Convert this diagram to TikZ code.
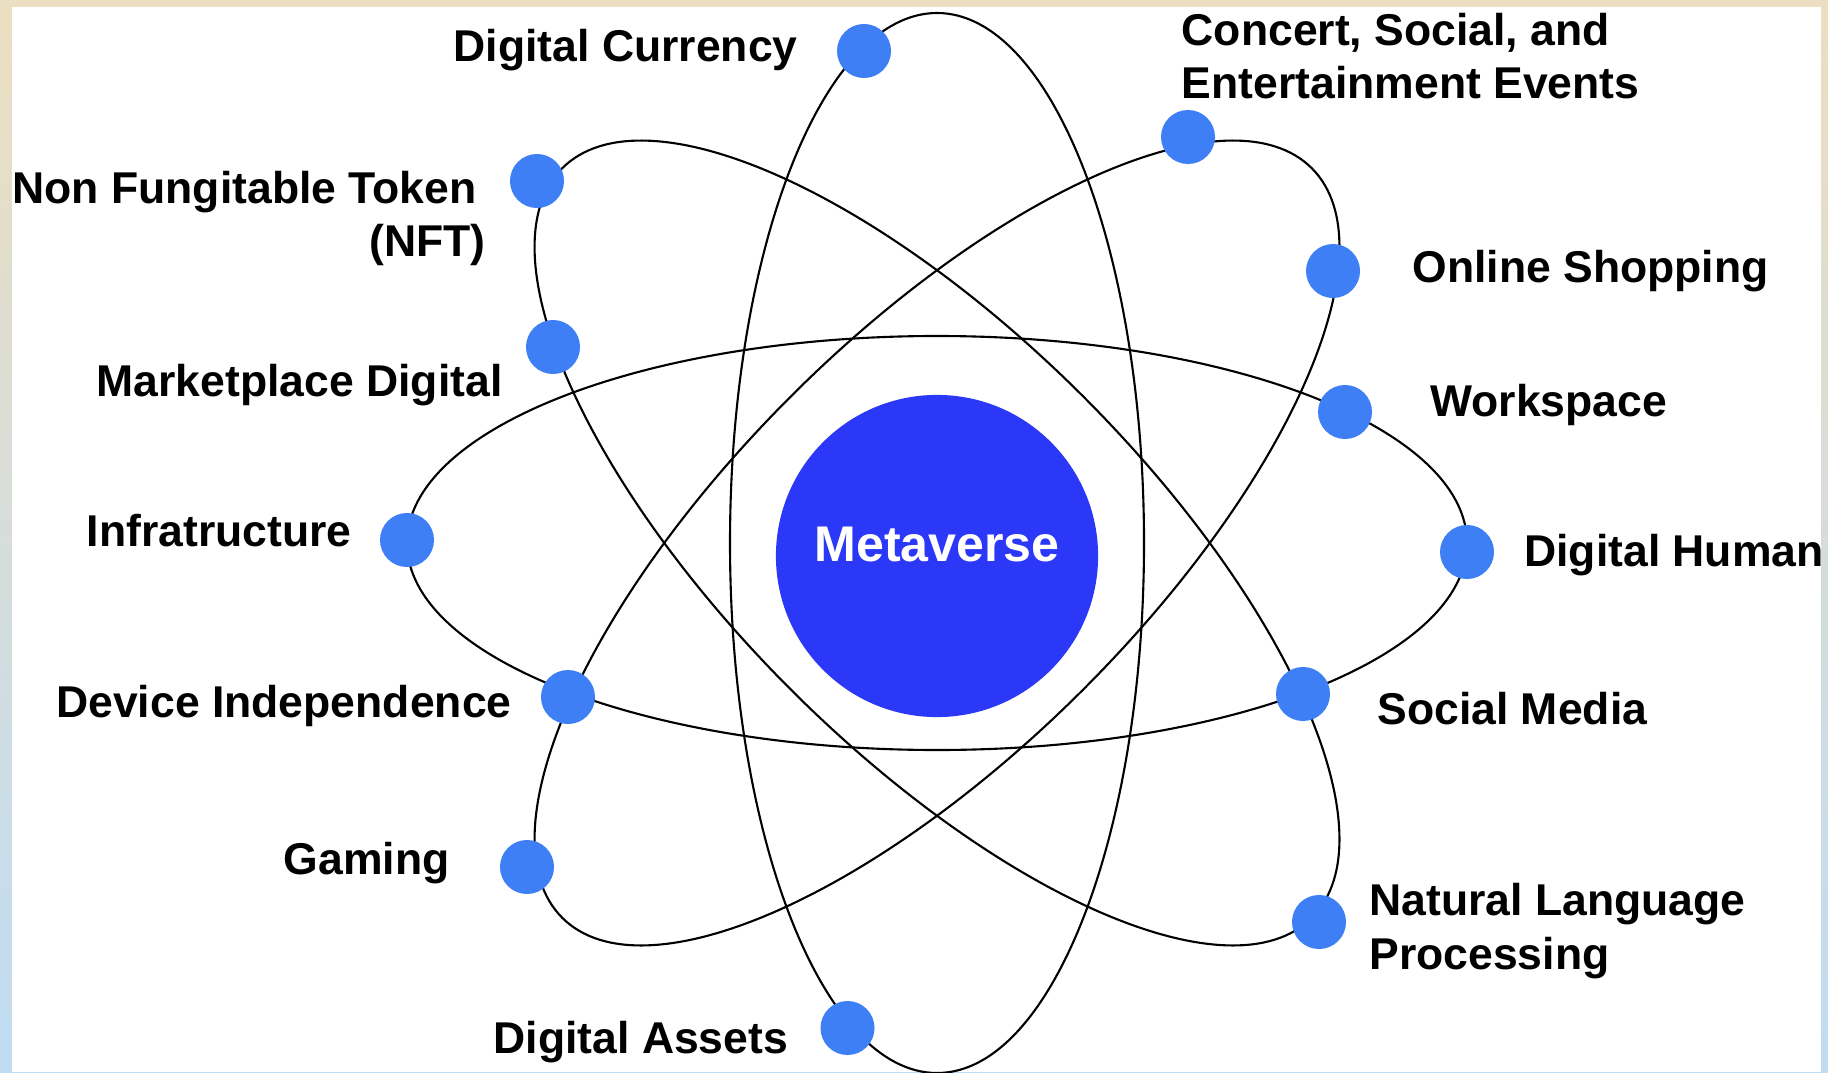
\documentclass[tikz,border=0pt]{standalone}
\usepackage{fontspec}
\setmainfont{Liberation Sans}
\usetikzlibrary{positioning}
\definecolor{dotblue}{RGB}{62,127,246}
\definecolor{hubblue}{RGB}{44,56,248}
\definecolor{bgtop}{RGB}{236,222,192}
\definecolor{bgbot}{RGB}{192,220,243}
\tikzstyle{dot}=[circle, fill=dotblue, minimum size=0.54cm, inner sep=0pt]
\tikzstyle{hub}=[circle, fill=hubblue, minimum size=3.22cm, inner sep=0pt]
\tikzstyle{lbl}=[inner sep=0pt, font=\fontsize{12.66}{15.2}\selectfont\bfseries]
\tikzstyle{hubtxt}=[inner sep=0pt, text=white, font=\fontsize{14.25}{17}\selectfont\bfseries]
\tikzstyle{orbit}=[line width=0.6pt, black]

\begin{document}
\begin{tikzpicture}[x=0.01cm, y=0.01cm]
	\useasboundingbox (0,0) rectangle (1828,1072);
	\shade[top color=bgtop, bottom color=bgbot] (0,0) rectangle (1828,1072);
	\fill[white] (12,0) rectangle (1821,1064.5);

	% four orbits round the hub
	\begin{scope}[shift={(937,529)}]
		\foreach \a in {0,45,90,135}
			\draw[orbit, rotate=\a] (0,0) ellipse [x radius=530, y radius=207];
	\end{scope}

	\node		[hub, label={[hubtxt, yshift=0.115cm]center:Metaverse}]		(mv) at (937,516) {};

	\node		[dot]		(dc) at (864,1021) {};
	\node		[dot]		(concert) at (1188,935) {};
	\node		[dot]		(shop) at (1333,801) {};
	\node		[dot]		(work) at (1345,660) {};
	\node		[dot]		(human) at (1467,520) {};
	\node		[dot]		(social) at (1303,378) {};
	\node		[dot]		(nlp) at (1319,150) {};
	\node		[dot]		(assets) at (847.5,44) {};
	\node		[dot]		(gaming) at (527,205) {};
	\node		[dot]		(device) at (568,375) {};
	\node		[dot]		(infra) at (407,532) {};
	\node		[dot]		(market) at (553,725) {};
	\node		[dot]		(nft) at (537,891) {};

	\node		[lbl]		(dcl) [left=0.38cm of dc, anchor=mid east, yshift=-0.01cm] {Digital Currency};
	\node		[lbl, align=left]	(concertl) [above=0.095cm of concert, anchor=south west, xshift=-0.07cm] {Concert, Social, and\\Entertainment Events};
	\node		[lbl]		(shopl) [right=0.51cm of shop, anchor=mid west, yshift=-0.025cm] {Online Shopping};
	\node		[lbl]		(workl) [right=0.57cm of work, anchor=mid west, yshift=0.05cm] {Workspace};
	\node		[lbl]		(humanl) [right=0.29cm of human, anchor=mid west, yshift=-0.05cm] {Digital Human};
	\node		[lbl]		(sociall) [right=0.46cm of social, anchor=mid west, yshift=-0.21cm] {Social Media};
	\node		[lbl, align=left]	(nlpl) [right=0.22cm of nlp, yshift=-0.09cm] {Natural Language\\Processing};
	\node		[lbl]		(assetsl) [left=0.31cm of assets, anchor=mid east, yshift=-0.165cm] {Digital Assets};
	\node		[lbl]		(gamingl) [left=0.49cm of gaming, anchor=mid east, yshift=0.02cm] {Gaming};
	\node		[lbl]		(devicel) [left=0.28cm of device, anchor=mid east, yshift=-0.115cm] {Device Independence};
	\node		[lbl]		(infral) [left=0.27cm of infra, anchor=mid east, yshift=0.025cm] {Infratructure};
	\node		[lbl]		(marketl) [left=0.22cm of market, anchor=mid east, yshift=-0.4cm] {Marketplace Digital};
	\node		[lbl, align=right]	(nftl) [left=0.23cm of nft, yshift=-0.375cm] {Non Fungitable Token\hspace*{0.09cm}\\(NFT)};

\end{tikzpicture}
\end{document}
